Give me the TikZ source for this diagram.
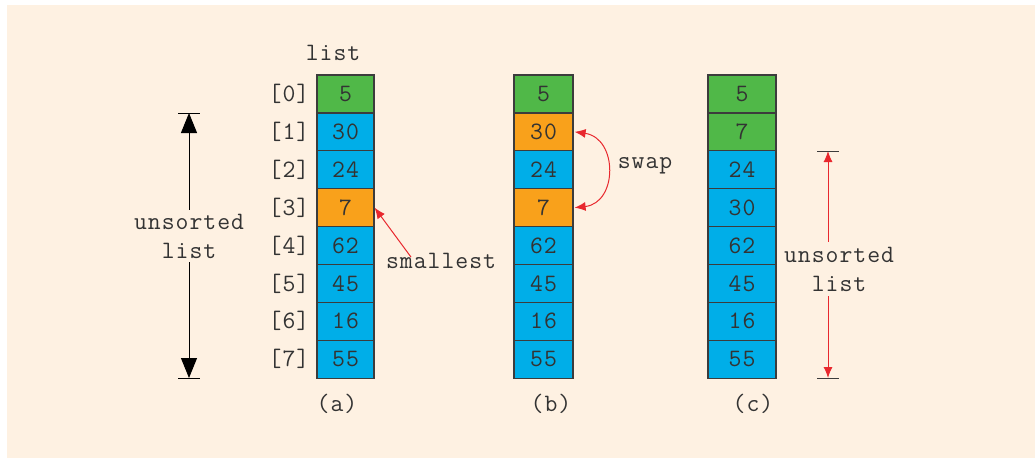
\documentclass[tikz,border=0pt]{standalone}
\usepackage{fontspec}
\setmonofont{Latin Modern Mono}[LetterSpace=4]
\usetikzlibrary{arrows.meta}
\definecolor{cream}{RGB}{254,241,226}
\definecolor{cgreen}{RGB}{80,184,72}
\definecolor{cblue}{RGB}{0,174,232}
\definecolor{corange}{RGB}{249,161,27}
\definecolor{cred}{RGB}{232,40,46}
\definecolor{ctext}{RGB}{51,51,51}
\definecolor{cborder}{RGB}{60,60,60}
\tikzset{
  txt/.style={font=\ttfamily\fontsize{25}{29}\selectfont, text=ctext, inner sep=0pt, align=center},
  cell/.style={txt, draw=cborder, line width=1.2pt, minimum height=37.9pt, anchor=center},
  cellA/.style={cell, minimum width=57pt},
  cellB/.style={cell, minimum width=59pt},
  cellC/.style={cell, minimum width=68pt},
  gr/.style={fill=cgreen}, bl/.style={fill=cblue}, og/.style={fill=corange},
  blackarrow/.style={line width=1pt, -{Triangle[width=16pt,length=20pt]}},
  redarrow/.style={cred, line width=1pt, -{Latex[width=9pt,length=11pt]}},
  tick/.style={line width=1pt},
}
\begin{document}
\begin{tikzpicture}[x=1pt,y=-1pt]
\useasboundingbox (0,0) rectangle (1035,459);
\fill[white] (0,0) rectangle (1035,459);
\fill[cream] (7,5) rectangle (1035,458);
% column (a)
\def\rowy#1{75+37.9*#1+18.95}
\node[cellA,gr] (a0) at (345.5,{\rowy{0}}) {5};
\node[cellA,bl] (a1) at (345.5,{\rowy{1}}) {30};
\node[cellA,bl] (a2) at (345.5,{\rowy{2}}) {24};
\node[cellA,og] (a3) at (345.5,{\rowy{3}}) {7};
\node[cellA,bl] (a4) at (345.5,{\rowy{4}}) {62};
\node[cellA,bl] (a5) at (345.5,{\rowy{5}}) {45};
\node[cellA,bl] (a6) at (345.5,{\rowy{6}}) {16};
\node[cellA,bl] (a7) at (345.5,{\rowy{7}}) {55};
% column (b)
\node[cellB,gr] (b0) at (543.5,{\rowy{0}}) {5};
\node[cellB,og] (b1) at (543.5,{\rowy{1}}) {30};
\node[cellB,bl] (b2) at (543.5,{\rowy{2}}) {24};
\node[cellB,og] (b3) at (543.5,{\rowy{3}}) {7};
\node[cellB,bl] (b4) at (543.5,{\rowy{4}}) {62};
\node[cellB,bl] (b5) at (543.5,{\rowy{5}}) {45};
\node[cellB,bl] (b6) at (543.5,{\rowy{6}}) {16};
\node[cellB,bl] (b7) at (543.5,{\rowy{7}}) {55};
% column (c)
\node[cellC,gr] (c0) at (742,{\rowy{0}}) {5};
\node[cellC,gr] (c1) at (742,{\rowy{1}}) {7};
\node[cellC,bl] (c2) at (742,{\rowy{2}}) {24};
\node[cellC,bl] (c3) at (742,{\rowy{3}}) {30};
\node[cellC,bl] (c4) at (742,{\rowy{4}}) {62};
\node[cellC,bl] (c5) at (742,{\rowy{5}}) {45};
\node[cellC,bl] (c6) at (742,{\rowy{6}}) {16};
\node[cellC,bl] (c7) at (742,{\rowy{7}}) {55};
% index labels
\foreach \i in {0,...,7}{
  \node[txt] (idx\i) at (289,{\rowy{\i}}) {[\i]};
}
\node[txt] (listlbl) at (333,53) {list};
\node[txt] (capa) at (337,404) {(a)};
\node[txt] (capb) at (551,404) {(b)};
\node[txt] (capc) at (753,404) {(c)};
% left unsorted list
\coordinate (Ltop) at (189,113);
\coordinate (Lbot) at (189,378);
\node[txt, inner sep=4pt] (Ltext) at (189,236) {unsorted\\list};
\draw[blackarrow] (Ltext.north) -- (Ltop);
\draw[blackarrow] (Ltext.south) -- (Lbot);
\draw[tick] ([xshift=-11pt]Ltop) -- ([xshift=11pt]Ltop);
\draw[tick] ([xshift=-11pt]Lbot) -- ([xshift=11pt]Lbot);
% right unsorted list
\coordinate (Rtop) at (828,151);
\coordinate (Rbot) at (828,378);
\node[txt, inner sep=5pt] (Rtext) at (839,269) {unsorted\\list};
\draw[redarrow] (Rtext.north -| Rtop) -- (Rtop);
\draw[redarrow] (Rtext.south -| Rtop) -- (Rbot);
\draw[tick, cborder] ([xshift=-11pt]Rtop) -- ([xshift=11pt]Rtop);
\draw[tick, cborder] ([xshift=-11pt]Rbot) -- ([xshift=11pt]Rbot);
% smallest
\node[txt] (smallest) at (441,261) {smallest};
\draw[redarrow] ([xshift=-30pt,yshift=-4pt]smallest.north) -- (a3.east);
% swap
\node[txt] (swap) at (645,166) {swap};
\draw[cred, line width=1pt, {Latex[width=9pt,length=11pt]}-{Latex[width=9pt,length=11pt]}]
  ([xshift=1pt]b1.east) .. controls (618,138) and (618,203) .. ([xshift=1pt]b3.east);
\end{tikzpicture}
\end{document}
